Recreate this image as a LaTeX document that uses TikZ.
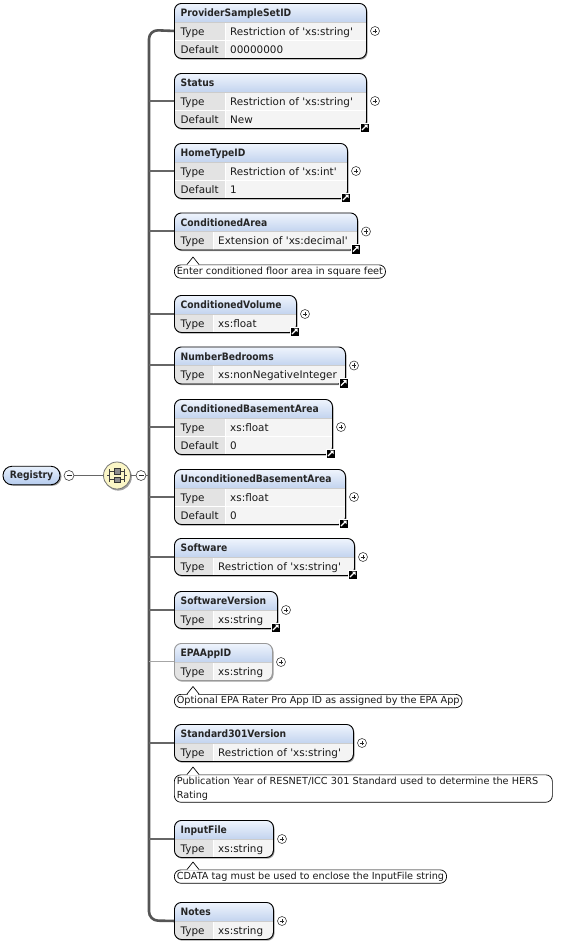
\documentclass[tikz,border=0pt]{standalone}
\usepackage{fontspec}
\setmainfont{DejaVu Sans}
\newfontfamily\hdrfont[FakeStretch=0.9]{DejaVu Sans}
\usetikzlibrary{calc}
\definecolor{hdrtop}{HTML}{F0F5FD}
\definecolor{hdrbot}{HTML}{C3D4EF}
\definecolor{labcell}{HTML}{E3E3E3}
\definecolor{valcell}{HTML}{F4F4F4}
\definecolor{trunkc}{HTML}{555555}
\definecolor{stubc}{HTML}{666666}
\definecolor{compfill}{HTML}{FBF6C6}
\definecolor{shadowc}{HTML}{A0A0A0}
\definecolor{regtop}{HTML}{E8F0FC}
\definecolor{regbot}{HTML}{B5CBEE}
\newcommand\sq{\textquotesingle}
\tikzset{
  txt/.style={font=\fontsize{10.4}{12}\selectfont, inner sep=0pt, text=black!90},
  hdr/.style={font=\hdrfont\bfseries\fontsize{10.2}{12}\selectfont, inner sep=0pt, text=black!85},
  elbox/.style={draw, rounded corners=7pt, line width=0.9pt, inner sep=0pt, anchor=north west},
  plusc/.style={circle, draw=black!75, fill=white, line width=0.6pt, minimum size=9pt, inner sep=0pt,
    path picture={\draw[black!85, line width=0.6pt]
      ([xshift=-2.3pt]path picture bounding box.center) -- ([xshift=2.3pt]path picture bounding box.center)
      ([yshift=-2.3pt]path picture bounding box.center) -- ([yshift=2.3pt]path picture bounding box.center);}},
  minusc/.style={circle, draw=black!75, fill=white, line width=0.6pt, minimum size=10pt, inner sep=0pt,
    path picture={\draw[black!85, line width=0.6pt]
      ([xshift=-2.5pt]path picture bounding box.center) -- ([xshift=2.5pt]path picture bounding box.center);}},
  arrowicon/.style={rectangle, fill=black, draw=white, line width=0.5pt, minimum size=9.5pt, inner sep=0pt,
    path picture={
      \fill[white] ([shift={(3pt,3pt)}]path picture bounding box.center) -- ([shift={(-0.6pt,3pt)}]path picture bounding box.center) -- ([shift={(3pt,-0.6pt)}]path picture bounding box.center) -- cycle;
      \draw[white, line width=1.1pt] ([shift={(-2.6pt,-2.6pt)}]path picture bounding box.center) -- ([shift={(1.6pt,1.6pt)}]path picture bounding box.center);}},
  trunk/.style={draw=trunkc, line width=2.6pt},
  stub/.style={draw=stubc, line width=2pt},
  faintstub/.style={draw=black!35, line width=1pt},
  conn/.style={draw=stubc, line width=1.5pt},
  annot/.style={draw, fill=white, rounded corners=6.5pt, line width=0.7pt, inner xsep=2.5pt, inner ysep=2pt,
    anchor=north west, font=\fontsize{9.7}{14}\selectfont, align=left, text=black!90},
}
% #1 id, #2 top, #3 right, #4 name, #5 type value, #6 default value (or empty), #7 arrow flag, #8 border colour
\newcommand\elem[8]{%
  \def\eldflt{#6}%
  \ifx\eldflt\empty\def\elN{2}\def\elD{213}\else\def\elN{3}\def\elD{225}\fi
  \pgfmathsetmacro\elT{#2}%
  \pgfmathsetmacro\elB{#2+19+18*(\elN-1)}%
  \pgfmathsetmacro\elR{#3}%
  \pgfmathsetmacro\elW{#3-174}%
  \pgfmathsetmacro\elH{\elB-\elT}%
  \fill[shadowc, rounded corners=7pt] (175.3,\elT+1.6) rectangle (\elR+1.5,\elB+1.7);
  \begin{scope}
    \clip[rounded corners=7pt] (174,\elT) rectangle (\elR,\elB);
    \shade[top color=hdrtop, bottom color=hdrbot] (174,\elT) rectangle (\elR,\elT+19);
    \fill[labcell] (174,\elT+19) rectangle (\elD,\elB);
    \fill[valcell] (\elD,\elT+19) rectangle (\elR,\elB);
    \draw[white, line width=1pt] (\elD,\elT+19) -- (\elD,\elB);
    \draw[black!20, line width=0.6pt] (174,\elT+19) -- (\elR,\elT+19);
    \ifx\eldflt\empty\else\draw[white, line width=1pt] (174,\elT+37) -- (\elR,\elT+37);\fi
  \end{scope}
  \node[elbox, draw=#8, minimum width=\elW pt, minimum height=\elH pt] (#1) at (174,\elT) {};
  \node[hdr, anchor=base west] (#1h) at (180.5,\elT+13.8) {#4};
  \node[txt, anchor=base west] (#1tl) at (180.5,\elT+32) {Type};
  \node[txt, anchor=base west] (#1tv) at (\elD+5,\elT+32) {#5};
  \ifx\eldflt\empty\else
    \node[txt, anchor=base west] (#1dl) at (180.5,\elT+50) {Default};
    \node[txt, anchor=base west] (#1dv) at (\elD+5,\elT+50) {#6};
  \fi
  \node[plusc] (#1p) at (\elR+9,{(\elT+\elB)/2+0.5}) {};
  \ifnum#7=1 \node[arrowicon] (#1a) at (\elR-1.5,\elB-0.5) {};\fi
}
\newcommand\caret[1]{%
  \fill[white] ([xshift=13pt]#1.north west) -- ([xshift=19pt,yshift=7.5pt]#1.north west) -- ([xshift=25pt]#1.north west) -- cycle;
  \draw[white, line width=1.3pt] ([xshift=13.6pt,yshift=-0.15pt]#1.north west) -- ([xshift=24.4pt,yshift=-0.15pt]#1.north west);
  \draw[line width=0.7pt, line join=round] ([xshift=13pt]#1.north west) -- ([xshift=19pt,yshift=7.5pt]#1.north west) -- ([xshift=25pt]#1.north west);
}
\begin{document}
\begin{tikzpicture}[x=1pt, y=-1pt]
\useasboundingbox (0,0) rectangle (575,945);
\fill[white] (0,0) rectangle (575,945);
\coordinate (trunktop) at (149,30);
\coordinate (trunkbot) at (149,920.5);

% Registry root
\fill[shadowc, rounded corners=9pt] (4.5,467.3) rectangle (61.5,485.8);
\node[draw=black, line width=0.9pt, rounded corners=9pt, top color=regtop, bottom color=regbot,
  minimum width=57pt, minimum height=18.5pt, inner sep=0pt, hdr] (reg) at (31.5,475.5) {Registry};
\node[minusc] (m0) at (69,475.5) {};
% compositor
\fill[shadowc] (118.2,477) circle (13.6pt);
\node[circle, minimum size=27pt, inner sep=0pt, fill=compfill, draw=black!55, line width=0.8pt] (comp) at (117,475.5) {};
\begin{scope}[shift={(comp.center)}]
  \draw[black!75, line width=0.8pt] (-10,0) -- (-7.5,0) (7.5,0) -- (10,0)
        (-7.5,-6.5) -- (-7.5,6.5) (7.5,-6.5) -- (7.5,6.5)
        (-7.5,-4.3) -- (7.5,-4.3) (-7.5,4.3) -- (7.5,4.3);
  \filldraw[fill=black!45, draw=black!80, line width=0.5pt] (-2.8,-7.1) rectangle (2.8,-1.5) (-2.8,1.5) rectangle (2.8,7.1);
\end{scope}
\node[minusc] (m1) at (141,475.5) {};
\draw[conn] (m0) -- (comp);
\draw[conn] (comp) -- (m1);
\draw[conn] (m1) -- (m1 -| trunktop);

% elements
\elem{e1}{3}{366}{ProviderSampleSetID}{Restriction of \sq xs:string\sq}{00000000}{0}{black}
\elem{e2}{73}{366}{Status}{Restriction of \sq xs:string\sq}{New}{1}{black}
\elem{e3}{143}{347}{HomeTypeID}{Restriction of \sq xs:int\sq}{1}{1}{black}
\elem{e4}{212.5}{357}{ConditionedArea}{Extension of \sq xs:decimal\sq}{}{1}{black}
\elem{e5}{295}{296}{ConditionedVolume}{xs:float}{}{1}{black}
\elem{e6}{346.5}{345}{NumberBedrooms}{xs:nonNegativeInteger}{}{1}{black}
\elem{e7}{399}{332}{ConditionedBasementArea}{xs:float}{0}{1}{black}
\elem{e8}{469}{345}{UnconditionedBasementArea}{xs:float}{0}{1}{black}
\elem{e9}{538}{354}{Software}{Restriction of \sq xs:string\sq}{}{1}{black}
\elem{e10}{591}{277}{SoftwareVersion}{xs:string}{}{1}{black}
\elem{e11}{643}{272}{EPAAppID}{xs:string}{}{0}{black!40}
\elem{e12}{724}{353}{Standard301Version}{Restriction of \sq xs:string\sq}{}{0}{black}
\elem{e13}{820}{273}{InputFile}{xs:string}{}{0}{black}
\elem{e14}{902}{273}{Notes}{xs:string}{}{0}{black}

% trunk and stubs
\draw[trunk, rounded corners=9pt] (e1.west) -- (trunktop) -- (trunkbot) -- (e14.west);
\foreach \k in {e2,e3,e4,e5,e6,e7,e8,e9,e10,e12,e13}
  \draw[stub] (\k.west) -- (\k.west -| trunktop);
\draw[faintstub] (e11.west) -- (e11.west -| trunktop);

% annotations
\node[annot] (e4c) at (174,264.5) {Enter conditioned floor area in square feet};
\caret{e4c}
\node[annot] (e11c) at (174,694) {Optional EPA Rater Pro App ID as assigned by the EPA App};
\caret{e11c}
\node[annot, text width=373pt] (e12c) at (174,774.5) {Publication Year of RESNET/ICC 301 Standard used to determine the HERS\\Rating};
\caret{e12c}
\node[annot] (e13c) at (174,869.5) {CDATA tag must be used to enclose the InputFile string};
\caret{e13c}
\end{tikzpicture}
\end{document}
